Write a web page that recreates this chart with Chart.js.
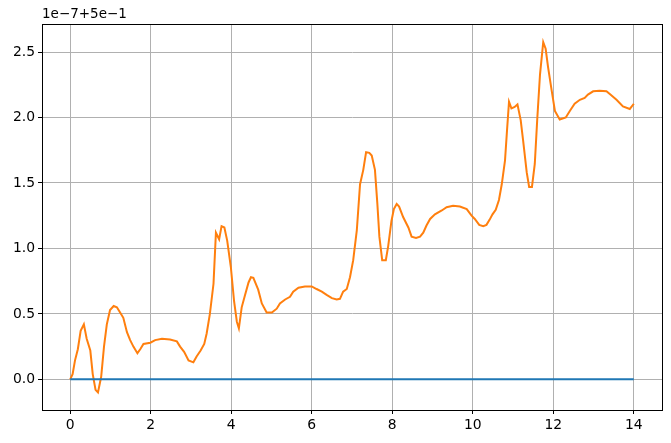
<!DOCTYPE html>
<html><head><meta charset="utf-8">
<script src="https://cdn.jsdelivr.net/npm/chart.js@4"></script>
<style>html,body{margin:0;padding:0;background:#fff}#wrap{width:671px;height:443px}</style>
</head><body><div id="wrap"><canvas id="c" width="671" height="443"></canvas></div>
<script>
const offsetLabel = "1e\u22127+5e\u22121";
const xTicks = [0,2,4,6,8,10,12,14];
const yTicks = [0,0.5,1.0,1.5,2.0,2.5];
const blueX = [0,14];
const blueY = [0,0];
const orangeX = [0,0.06,0.12,0.19,0.26,0.34,0.41,0.5,0.56,0.63,0.69,0.77,0.84,0.91,0.99,1.08,1.16,1.24,1.32,1.41,1.49,1.57,1.67,1.74,1.82,1.99,2.11,2.28,2.48,2.65,2.73,2.83,2.94,3.06,3.14,3.24,3.33,3.39,3.47,3.56,3.62,3.70,3.76,3.83,3.90,3.99,4.07,4.14,4.19,4.26,4.34,4.43,4.49,4.55,4.67,4.76,4.88,5.01,5.13,5.21,5.34,5.46,5.54,5.67,5.83,6.0,6.12,6.25,6.37,6.50,6.62,6.70,6.78,6.87,6.95,7.03,7.12,7.20,7.28,7.35,7.43,7.49,7.57,7.63,7.68,7.75,7.84,7.90,7.98,8.04,8.11,8.17,8.27,8.40,8.48,8.59,8.69,8.77,8.85,8.94,9.06,9.23,9.35,9.51,9.68,9.85,9.97,10.05,10.16,10.26,10.34,10.42,10.49,10.57,10.65,10.72,10.80,10.85,10.90,10.96,11.04,11.11,11.19,11.25,11.34,11.40,11.47,11.54,11.60,11.67,11.75,11.81,11.87,11.96,12.04,12.16,12.31,12.41,12.53,12.66,12.78,12.86,12.99,13.15,13.32,13.44,13.57,13.73,13.90,14.0];
const orangeY = [0,0.04,0.145,0.23,0.37,0.42,0.31,0.22,0.04,-0.08,-0.10,0.02,0.25,0.42,0.53,0.56,0.55,0.51,0.47,0.36,0.30,0.25,0.20,0.23,0.27,0.28,0.30,0.31,0.305,0.29,0.25,0.21,0.145,0.13,0.175,0.22,0.27,0.35,0.50,0.73,1.12,1.07,1.17,1.16,1.06,0.86,0.60,0.44,0.39,0.55,0.64,0.74,0.78,0.775,0.685,0.58,0.51,0.51,0.54,0.58,0.61,0.63,0.67,0.70,0.71,0.71,0.69,0.67,0.645,0.62,0.61,0.615,0.67,0.69,0.78,0.91,1.14,1.49,1.60,1.735,1.73,1.71,1.60,1.34,1.09,0.91,0.91,1.02,1.21,1.30,1.34,1.32,1.24,1.16,1.09,1.08,1.09,1.12,1.175,1.225,1.26,1.29,1.315,1.325,1.32,1.30,1.25,1.225,1.18,1.17,1.18,1.22,1.26,1.295,1.37,1.49,1.67,1.90,2.12,2.07,2.08,2.10,1.98,1.825,1.58,1.47,1.47,1.645,1.98,2.33,2.575,2.525,2.385,2.205,2.05,1.985,2.00,2.05,2.105,2.135,2.15,2.175,2.20,2.205,2.20,2.17,2.135,2.085,2.065,2.105];

const toPts = (xs, ys) => xs.map((x, i) => ({x, y: ys[i]}));
const FONT = "'DejaVu Sans', sans-serif";

const frame = {
  id: 'frame',
  afterDraw(chart) {
    const {ctx, chartArea: a} = chart;
    ctx.save();
    ctx.strokeStyle = '#000';
    ctx.lineWidth = 1;
    ctx.strokeRect(Math.round(a.left) + 0.5, Math.round(a.top) + 0.5, Math.round(a.right - a.left), Math.round(a.bottom - a.top));
    ctx.fillStyle = '#000';
    ctx.font = "13.5px " + FONT;
    ctx.textAlign = 'left';
    ctx.textBaseline = 'bottom';
    ctx.fillText(offsetLabel, a.left, a.top - 3);
    ctx.restore();
  }
};

new Chart(document.getElementById('c'), {
  type: 'line',
  data: {
    datasets: [
      {data: toPts(blueX, blueY), borderColor: '#1f77b4', borderWidth: 2, pointRadius: 0, fill: false, tension: 0},
      {data: toPts(orangeX, orangeY), borderColor: '#ff7f0e', borderWidth: 2, pointRadius: 0, fill: false, tension: 0}
    ]
  },
  options: {
    responsive: false,
    animation: false,
    events: [],
    layout: {padding: {left: 0, top: 24, right: 9, bottom: 0}},
    plugins: {legend: {display: false}, tooltip: {enabled: false}},
    scales: {
      x: {
        type: 'linear', min: -0.7, max: 14.7,
        afterBuildTicks: s => { s.ticks = xTicks.map(v => ({value: v})); },
        afterFit: s => { s.height = 33; },
        grid: {color: '#b0b0b0', lineWidth: 1, drawTicks: true, tickLength: 4, tickColor: '#000'},
        border: {display: true, color: '#000', width: 1},
        ticks: {color: '#000', font: {family: FONT, size: 13.9}, padding: 3, maxRotation: 0, callback: v => String(v)}
      },
      y: {
        type: 'linear', min: -0.234, max: 2.714,
        afterBuildTicks: s => { s.ticks = yTicks.map(v => ({value: v})); },
        afterFit: s => { s.width = 42; },
        grid: {color: '#b0b0b0', lineWidth: 1, drawTicks: true, tickLength: 4, tickColor: '#000'},
        border: {display: true, color: '#000', width: 1},
        ticks: {color: '#000', font: {family: FONT, size: 13.9}, padding: 3, callback: v => v.toFixed(1)}
      }
    }
  },
  plugins: [frame]
});
</script></body></html>
